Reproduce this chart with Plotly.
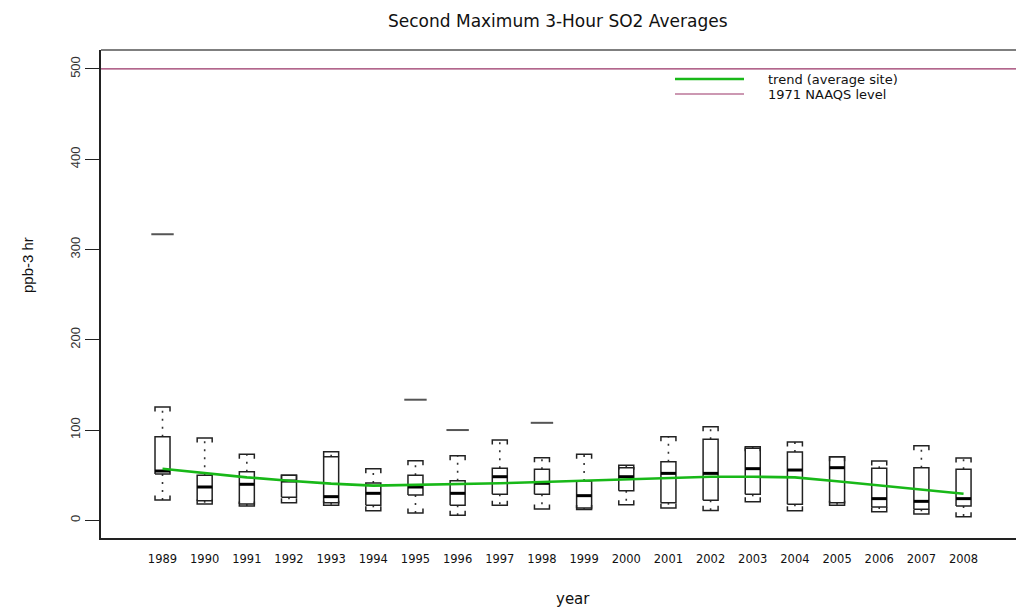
import plotly.graph_objects as go

# Annual distribution of second-maximum 3-hour SO2 values (ppb)
years = list(range(1989, 2009))
lower_whisker = [22.5, 18.1, 15.8, 19.5, 16.6, 10.7, 8.1, 5.5, 16.6, 12.5,
                 12.0, 17.3, 13.6, 11.0, 20.6, 10.7, 16.6, 9.5, 7.0, 4.0]
q1 = [51.3, 21.7, 18.1, 25.5, 19.5, 16.6, 28.0, 16.6, 28.8, 28.8,
      13.5, 32.8, 19.5, 22.1, 28.8, 17.7, 19.5, 14.7, 12.2, 15.8]
median = [54.6, 36.9, 39.9, 43.5, 26.2, 29.9, 36.9, 29.9, 48.3, 41.0,
          27.3, 48.3, 52.0, 52.0, 57.2, 55.7, 58.3, 24.0, 21.0, 24.0]
q3 = [92.6, 49.8, 53.9, 49.8, 70.5, 41.3, 49.8, 43.9, 57.6, 56.5,
      43.5, 58.3, 65.0, 89.7, 79.8, 75.7, 70.5, 57.6, 58.3, 56.5]
upper_whisker = [125.5, 91.2, 73.1, 49.8, 76.0, 57.2, 66.0, 71.6, 89.0, 69.4,
                 73.1, 60.9, 92.6, 103.7, 81.6, 86.7, 70.5, 65.7, 82.7, 69.0]
outlier_years = [1989, 1995, 1996, 1998]
outlier_values = [316.9, 133.6, 100.0, 108.0]

# Trend for the average site
trend = [57.2, 52.0, 47.6, 43.9, 40.6, 38.4, 39.1, 39.9, 41.0, 42.4,
         43.9, 46.1, 46.9, 48.3, 48.3, 47.6, 43.2, 38.8, 33.9, 29.5]

naaqs_level = 500
y_ticks = [0, 100, 200, 300, 400, 500]

HALF = 0.178      # box half-width in years
CAP_TICK = 5.0    # length of the bracket ends on whisker caps (ppb)

box_x, box_y = [], []
med_x, med_y = [], []
wh_x, wh_y = [], []
cap_x, cap_y = [], []
for yr, lo, a, m, b, hi in zip(years, lower_whisker, q1, median, q3, upper_whisker):
    x0, x1 = yr - HALF, yr + HALF
    box_x += [x0, x1, x1, x0, x0, None]
    box_y += [a, a, b, b, a, None]
    med_x += [x0, x1, None]
    med_y += [m, m, None]
    wh_x += [yr, yr, None, yr, yr, None]
    wh_y += [b, hi, None, a, lo, None]
    cap_x += [x0, x0, x1, x1, None, x0, x0, x1, x1, None]
    cap_y += [hi - CAP_TICK, hi, hi, hi - CAP_TICK, None,
              lo + CAP_TICK, lo, lo, lo + CAP_TICK, None]

fig = go.Figure()
fig.add_trace(go.Scatter(x=wh_x, y=wh_y, mode="lines", hoverinfo="skip",
                         line=dict(color="#333333", width=1.6, dash="2px,6px")))
fig.add_trace(go.Scatter(x=cap_x, y=cap_y, mode="lines", hoverinfo="skip",
                         line=dict(color="#222222", width=1.5)))
fig.add_trace(go.Scatter(x=box_x, y=box_y, mode="lines", hoverinfo="skip",
                         line=dict(color="#222222", width=1.5)))
fig.add_trace(go.Scatter(x=med_x, y=med_y, mode="lines", hoverinfo="skip",
                         line=dict(color="#000000", width=3)))
fig.add_trace(go.Scatter(x=outlier_years, y=outlier_values, mode="markers",
                         marker=dict(symbol="line-ew", size=16,
                                     line=dict(color="#555555", width=2))))
fig.add_trace(go.Scatter(x=years, y=trend, mode="lines",
                         line=dict(color="#18B818", width=2.6)))

# 1971 NAAQS level
fig.add_shape(type="line", xref="paper", yref="y", x0=0, x1=1,
              y0=naaqs_level, y1=naaqs_level,
              line=dict(color="#993366", width=1.2))
# top edge of the plotting frame
fig.add_shape(type="line", xref="paper", yref="paper", x0=0, x1=1.02, y0=1, y1=1,
              line=dict(color="#555555", width=1.5))

# legend drawn as line samples with labels
W, H = 1016, 611
L, T, B = 101, 50, 73
def px(xp):
    return (xp - L) / (W - L)
def py(yp):
    return (H - B - yp) / (H - T - B)

fig.add_shape(type="line", xref="paper", yref="paper",
              x0=px(675), x1=px(744), y0=py(79), y1=py(79),
              line=dict(color="#18B818", width=2.6))
fig.add_shape(type="line", xref="paper", yref="paper",
              x0=px(675), x1=px(744), y0=py(94), y1=py(94),
              line=dict(color="#993366", width=1.2))
legend_font = dict(family="DejaVu Sans, Liberation Sans, sans-serif", size=13, color="#111111")
fig.add_annotation(text="trend (average site)", xref="paper", yref="paper",
                   x=px(767), y=py(79), xanchor="left", yanchor="middle",
                   showarrow=False, font=legend_font, borderpad=0)
fig.add_annotation(text="1971 NAAQS level", xref="paper", yref="paper",
                   x=px(767), y=py(95), xanchor="left", yanchor="middle",
                   showarrow=False, font=legend_font, borderpad=0)

# titles
fig.add_annotation(text="Second Maximum 3-Hour SO2 Averages", xref="paper", yref="paper",
                   x=px(558), y=py(21), xanchor="center", yanchor="middle",
                   showarrow=False,
                   font=dict(family="DejaVu Sans, Liberation Sans, sans-serif", size=17,
                             color="#111111"))
fig.add_annotation(text="year", xref="paper", yref="paper",
                   x=px(573), y=py(599), xanchor="center", yanchor="middle",
                   showarrow=False, borderpad=0,
                   font=dict(family="DejaVu Sans, Liberation Sans, sans-serif", size=15,
                             color="#111111"))
fig.add_annotation(text="ppb-3 hr", xref="paper", yref="paper",
                   x=px(27), y=py(265), xanchor="center", yanchor="middle",
                   textangle=-90, showarrow=False,
                   font=dict(family="Liberation Sans, Arial, sans-serif",
                             size=15, color="#111111"))

fig.update_layout(
    width=W, height=H,
    margin=dict(l=L, r=0, t=T, b=B),
    paper_bgcolor="white", plot_bgcolor="white",
    showlegend=False,
    xaxis=dict(range=[1987.541, 2009.244], tickvals=years,
               ticktext=[str(y) for y in years], ticks="", showgrid=False,
               zeroline=False, showline=True, linecolor="#222222", linewidth=1.5,
               ticklabelstandoff=9,
               tickfont=dict(family="DejaVu Sans, Liberation Sans, sans-serif", size=11.5,
                             color="#111111")),
    yaxis=dict(range=[-19.6, 521.0], tickvals=y_ticks, ticks="outside", ticklen=14,
               tickcolor="#222222", tickwidth=1.2, tickangle=-90,
               showgrid=False, zeroline=False, showline=True,
               linecolor="#222222", linewidth=1.5,
               tickfont=dict(family="Liberation Sans, Arial, sans-serif",
                             size=13, color="#333333")),
)

fig.write_html("out.html")
